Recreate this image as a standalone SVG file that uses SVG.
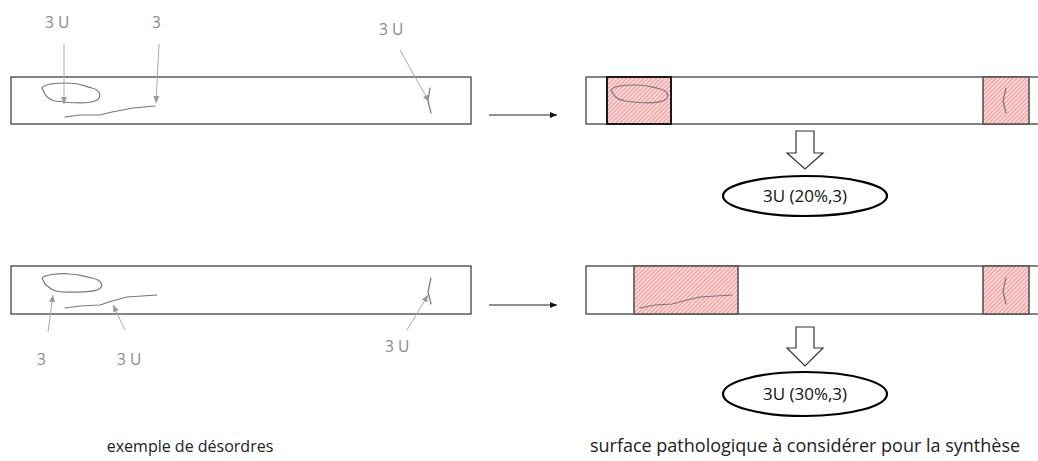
<svg xmlns="http://www.w3.org/2000/svg" width="1038" height="461" viewBox="0 0 1038 461">
<style>
.bar{fill:#fff;stroke:#333;stroke-width:1.2}
.hatch{fill:url(#hp);stroke:#555;stroke-width:1.6}
.hatchA{fill:url(#hp);stroke:#1a1a1a;stroke-width:2}
.mark{fill:none;stroke:#777;stroke-width:1.2;stroke-linejoin:round;stroke-linecap:round}
.lbl{font-family:"Open Sans","Liberation Sans",sans-serif;font-size:15.5px;fill:#8a8a8a}
.ptr{stroke:#aaa;stroke-width:1;fill:none;marker-end:url(#ga)}
.conn{stroke:#222;stroke-width:1;fill:none;marker-end:url(#ba)}
.blk{fill:#fff;stroke:#333;stroke-width:1.2}
.res{fill:#fff;stroke:#000;stroke-width:2.2}
.rtx{font-family:"Open Sans","Liberation Sans",sans-serif;font-size:17px;fill:#111;text-anchor:middle}
.cap{font-family:"Open Sans","Liberation Sans",sans-serif;fill:#222;text-anchor:middle}
</style>
<defs>
<pattern id="hp" width="3" height="3" patternUnits="userSpaceOnUse" patternTransform="rotate(45)">
<rect width="3" height="3" fill="#fbd6d6"/>
<line x1="0" y1="0" x2="0" y2="3" stroke="#ee7f7f" stroke-width="1.4"/>
</pattern>
<marker id="ga" markerWidth="8" markerHeight="8" refX="7" refY="4" orient="auto" markerUnits="userSpaceOnUse">
<path d="M0,1 L7,4 L0,7 Z" fill="#999"/>
</marker>
<marker id="ba" markerWidth="8" markerHeight="8" refX="7" refY="4" orient="auto" markerUnits="userSpaceOnUse">
<path d="M0,1 L7,4 L0,7 Z" fill="#111"/>
</marker>
</defs>

<g id="bar-top-left">
<rect class="bar" x="11" y="77" width="460" height="47"/>
<path class="mark" d="M42,88 C44,84 56,83 68,83 C80,83 84,86 92,88 C100,90 102,96 97,100 C90,104 70,103 55,101 C47,99 45,95 42,88 Z"/>
<path class="mark" d="M65,117 L80,115 L100,115 L112,112 L133,108 L155,106"/>
<path class="mark" d="M430,88 L428,101 L431,113"/>
</g>
<g id="labels-top">
<text class="lbl" x="45" y="28">3 U</text>
<text class="lbl" x="152" y="28">3</text>
<text class="lbl" x="379" y="35">3 U</text>
</g>

<g id="bar-top-right">
<rect class="bar" x="586" y="77" width="460" height="47"/>
<rect class="hatchA" x="607" y="77" width="64" height="47"/>
<rect class="hatch" x="983" y="77" width="46" height="47"/>
<path class="mark" d="M611,90 C613,86 625,85 637,85 C648,85 652,87 660,89 C668,91 670,96 665,100 C658,104 640,103 625,101 C616,99 614,96 611,90 Z"/>
<path class="mark" d="M1006,88 L1003,101 L1006,113"/>
</g>

<g id="bar-bottom-left">
<rect class="bar" x="11" y="266" width="460" height="48"/>
<path class="mark" d="M42,278 C44,275 58,273 70,274 C80,274 80,276 92,278 C102,280 104,286 99,289 C93,293 75,292 62,292 C52,291 50,288 45,284 Z"/>
<path class="mark" d="M65,308 L80,306 L100,305 L112,301 L127,297 L157,295"/>
<path class="mark" d="M431,278 L428,292 L431,304"/>
</g>
<g id="labels-bottom">
<text class="lbl" x="37" y="365">3</text>
<text class="lbl" x="117" y="365">3 U</text>
<text class="lbl" x="385" y="352">3 U</text>
</g>

<g id="bar-bottom-right">
<rect class="bar" x="586" y="266" width="460" height="48"/>
<rect class="hatch" x="634" y="266" width="104" height="48"/>
<rect class="hatch" x="983" y="266" width="46" height="48"/>
<path class="mark" d="M640,308 L655,305 L672,304 L687,300 L700,297 L716,296 L732,295"/>
<path class="mark" d="M1006,278 L1003,291 L1006,304"/>
</g>

<g id="result-top">
<path class="blk" d="M796,131 L814,131 L814,153 L823,153 L805,169 L787,153 L796,153 Z"/>
<ellipse class="res" cx="805" cy="196" rx="82" ry="20"/>
<text class="rtx" x="805" y="202">3U (20%,3)</text>
</g>
<g id="result-bottom">
<path class="blk" d="M796,327 L814,327 L814,348 L823,348 L805,366 L787,348 L796,348 Z"/>
<ellipse class="res" cx="805" cy="394" rx="82" ry="22"/>
<text class="rtx" x="805" y="400">3U (30%,3)</text>
</g>

<g id="connectors">
<path class="ptr" d="M64,44 L64,104"/>
<path class="ptr" d="M159,44 L156,103"/>
<path class="ptr" d="M400,50 L429,102"/>
<path class="ptr" d="M48,332 L53,295"/>
<path class="ptr" d="M125,330 L113,305"/>
<path class="ptr" d="M407,330 L428,295"/>
<path class="conn" d="M489,115 L557,115"/>
<path class="conn" d="M489,305 L557,305"/>
</g>

<g id="captions">
<text class="cap" x="190" y="452" font-size="16">exemple de désordres</text>
<text class="cap" x="805" y="452" font-size="18">surface pathologique à considérer pour la synthèse</text>
</g>
</svg>
